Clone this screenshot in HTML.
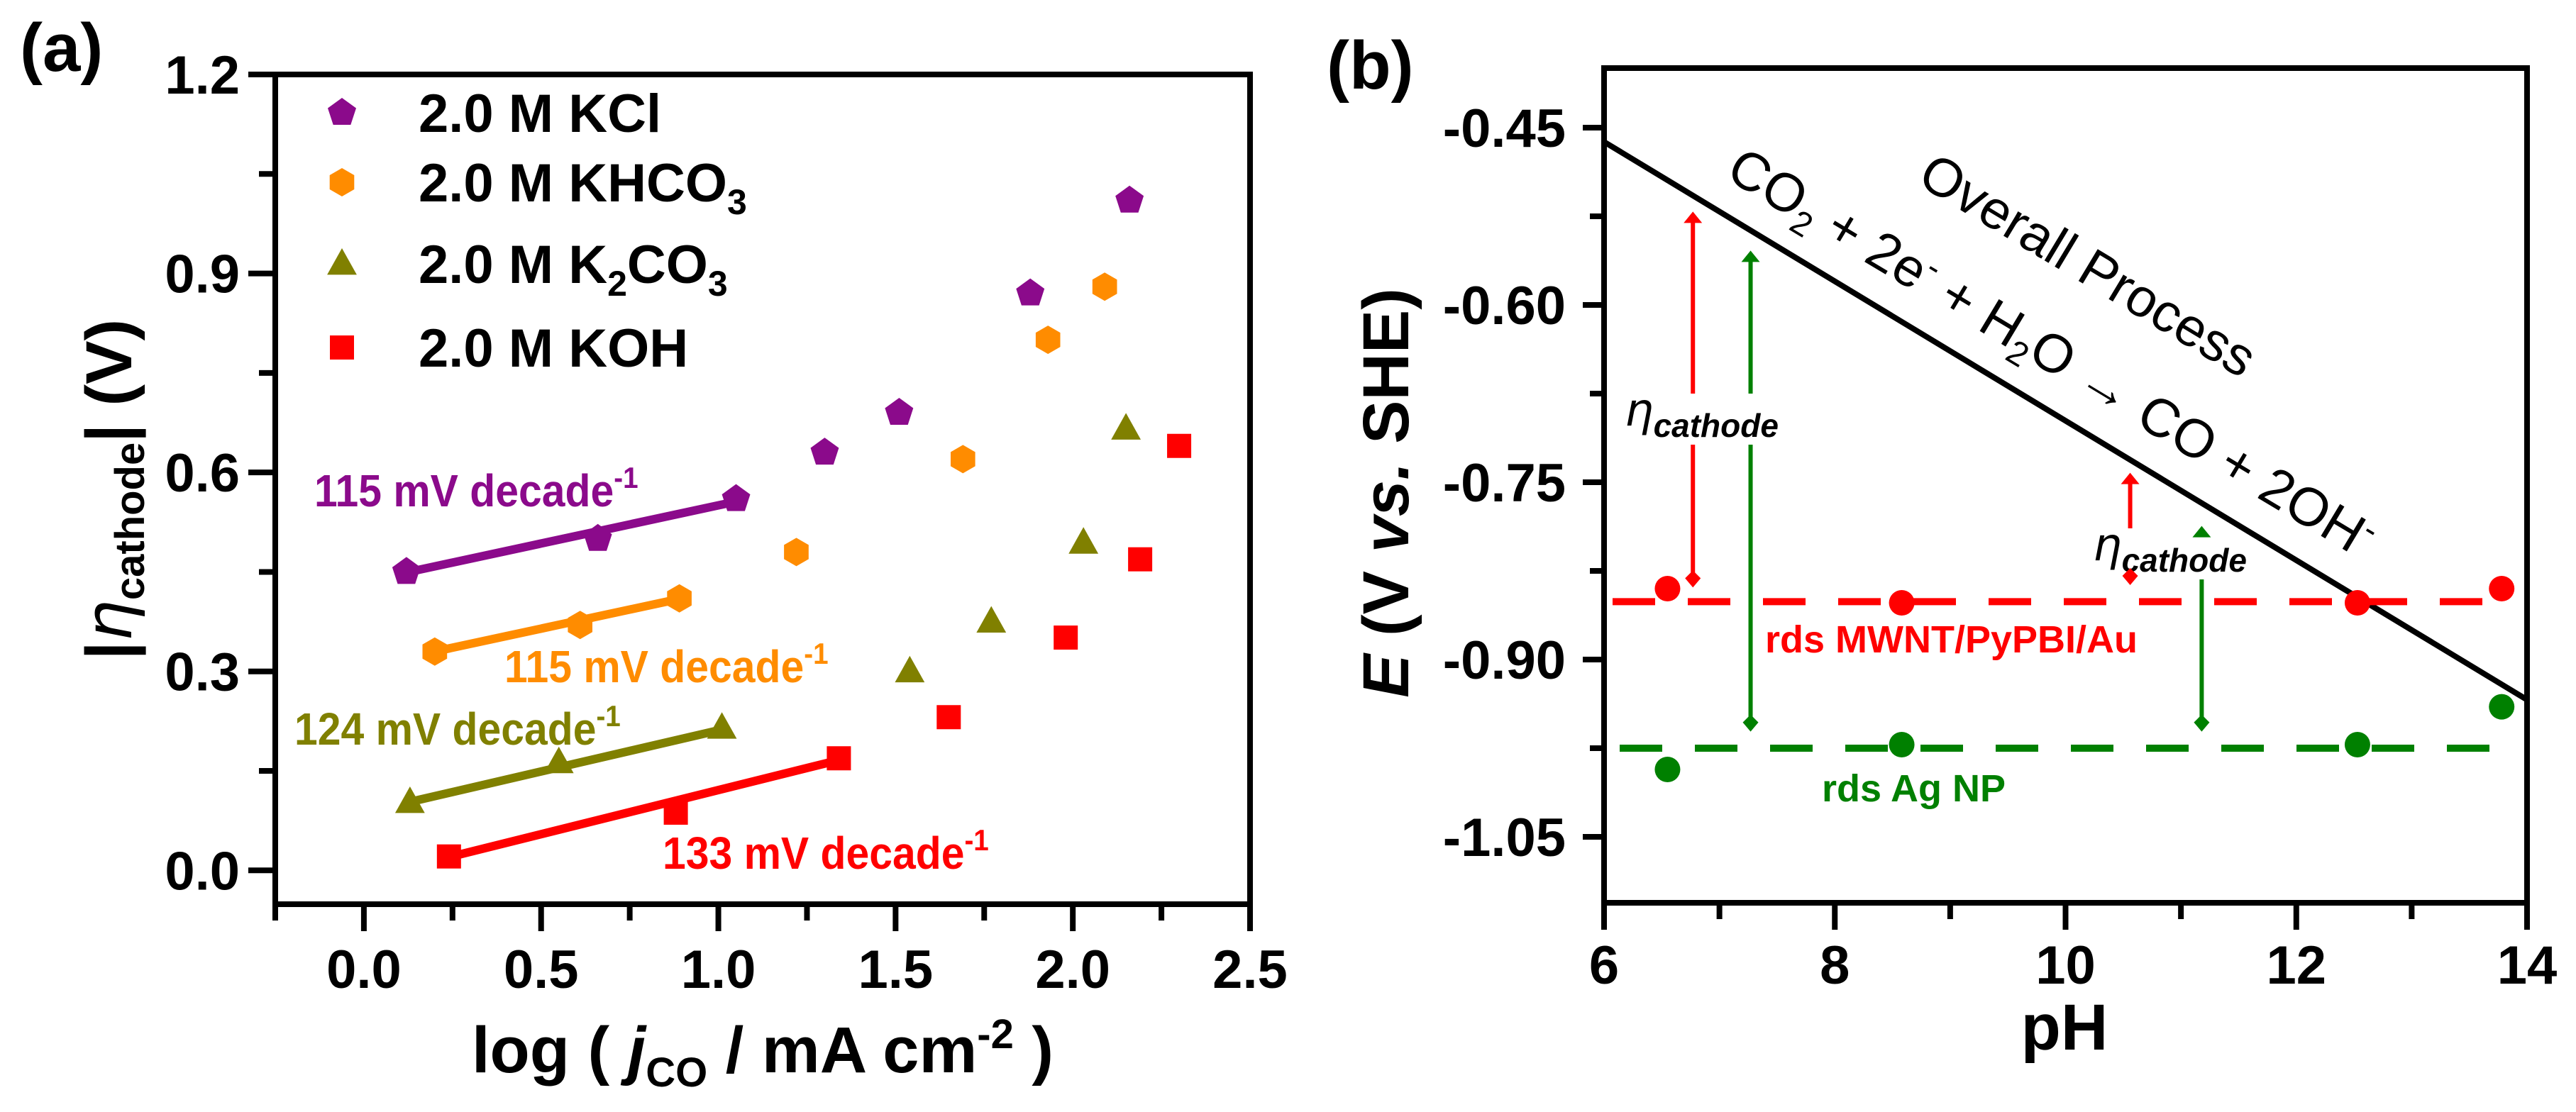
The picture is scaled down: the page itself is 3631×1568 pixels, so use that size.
<!DOCTYPE html>
<html><head><meta charset="utf-8"><style>
html,body{margin:0;padding:0;background:#fff;}
svg{display:block;font-family:"Liberation Sans",Arial,sans-serif;font-weight:bold;}
</style></head><body>
<svg id="fig" width="3631" height="1568" viewBox="0 0 3631 1568" xmlns="http://www.w3.org/2000/svg">
<g id="pa"></g>
<g id="pb"></g>
</svg>
<script>
// ---------- Panel (a) data ----------
const aSeriesNames = ["2.0 M KCl","2.0 M KHCO3","2.0 M K2CO3","2.0 M KOH"];
const aColors = ["#8b0a8b","#ff8c00","#808000","#ff0000"];
const kclX = [0.12,0.66,1.05,1.30,1.51,1.88,2.16];
const kclY = [0.45,0.50,0.56,0.63,0.69,0.87,1.01];
const khco3X = [0.20,0.61,0.89,1.22,1.69,1.93,2.09];
const khco3Y = [0.33,0.37,0.41,0.48,0.62,0.80,0.88];
const k2co3X = [0.13,0.55,1.01,1.54,1.77,2.03,2.15];
const k2co3Y = [0.103,0.163,0.215,0.30,0.375,0.494,0.666];
const kohX = [0.24,0.88,1.34,1.65,1.98,2.19,2.30];
const kohY = [0.021,0.087,0.169,0.231,0.351,0.469,0.64];
const fitX0 = [0.11,0.20,0.12,0.24];
const fitX1 = [1.06,0.89,1.01,1.34];
const fitY0 = [0.448,0.33,0.102,0.02];
const fitSlope = [0.115,0.115,0.124,0.133];
const fitLabels = ["115 mV decade","115 mV decade","124 mV decade","133 mV decade"];
const aXTicks = [0.0,0.5,1.0,1.5,2.0,2.5];
const aXTickLabels = ["0.0","0.5","1.0","1.5","2.0","2.5"];
const aYTicks = [0.0,0.3,0.6,0.9,1.2];
const aYTickLabels = ["0.0","0.3","0.6","0.9","1.2"];
// ---------- Panel (b) data ----------
const bRedPH = [6.55,8.58,12.53,13.78];
const bRedE = [-0.840,-0.852,-0.852,-0.840];
const bGreenPH = [6.55,8.58,12.53,13.78];
const bGreenE = [-0.993,-0.972,-0.972,-0.940];
const bRdsRed = -0.851;
const bRdsGreen = -0.975;
const bLinePH = [6,14];
const bLineE = [-0.462,-0.934];
const bArrowPH = [6.77,7.27,10.56,11.18];
const bArrowTop = [-0.521,-0.554,-0.742,-0.787];
const bArrowBot = [-0.839,-0.961,-0.837,-0.961];
const bArrowColor = ["#ff0000","#008000","#ff0000","#008000"];
const bXTicks = [6,8,10,12,14];
const bXTickLabels = ["6","8","10","12","14"];
const bYTicks = [-0.45,-0.60,-0.75,-0.90,-1.05];
const bYTickLabels = ["-0.45","-0.60","-0.75","-0.90","-1.05"];

const NS="http://www.w3.org/2000/svg";
function mk(parent,tag,attrs,text){const e=document.createElementNS(NS,tag);for(const k in attrs)e.setAttribute(k,attrs[k]);if(text!==undefined)e.textContent=text;parent.appendChild(e);return e;}

const A={l:388,r:1762,t:105,b:1275,x0:-0.25,x1:2.5,y0:-0.051,y1:1.2};
const ax=v=>A.l+(v-A.x0)/(A.x1-A.x0)*(A.r-A.l);
const ay=v=>A.b-(v-A.y0)/(A.y1-A.y0)*(A.b-A.t);
const B={l:2261,r:3562,t:96,b:1273,x0:6,x1:14,y0:-1.1058,y1:-0.3996};
const bx=v=>B.l+(v-B.x0)/(B.x1-B.x0)*(B.r-B.l);
const by=v=>B.b-(v-B.y0)/(B.y1-B.y0)*(B.b-B.t);

const pa=document.getElementById('pa');
const pb=document.getElementById('pb');

function frame(g,R){
  const f=mk(g,'rect',{x:R.l,y:R.t,width:R.r-R.l,height:R.b-R.t,fill:'none',stroke:'#000','stroke-width':8});
  
  
}
function tick(g,x1,y1,x2,y2,name){
  const t=mk(g,'line',{x1,y1,x2,y2,stroke:'#000','stroke-width':8});
  
  
}
function pentagon(cx,cy,r){let p=[];for(let i=0;i<5;i++){const a=-Math.PI/2+i*2*Math.PI/5;p.push((cx+r*Math.cos(a)).toFixed(1)+','+(cy+r*Math.sin(a)).toFixed(1));}return p.join(' ');}
function hexagon(cx,cy,r){let p=[];for(let i=0;i<6;i++){const a=Math.PI/6+i*Math.PI/3;p.push((cx+r*Math.cos(a)).toFixed(1)+','+(cy+r*Math.sin(a)).toFixed(1));}return p.join(' ');}
function triangle(cx,cy,r){return `${cx},${cy-r} ${cx+r*0.95},${cy+r*0.7} ${cx-r*0.95},${cy+r*0.7}`;}
function marker(g,kind,cx,cy,color,name){
  let e;
  if(kind===0)e=mk(g,'polygon',{points:pentagon(cx,cy,21),fill:color});
  else if(kind===1)e=mk(g,'polygon',{points:hexagon(cx,cy,20),fill:color});
  else if(kind===2)e=mk(g,'polygon',{points:triangle(cx,cy,22),fill:color});
  else e=mk(g,'rect',{x:cx-17,y:cy-17,width:34,height:34,fill:color});
  
  
}

// ===== Panel a =====
frame(pa,A);
aXTicks.forEach((v,i)=>{
  tick(pa,ax(v),A.b,ax(v),A.b+38,'x-tick');
  const t=mk(pa,'text',{x:ax(v),y:1393,'font-size':76,'text-anchor':'middle'},aXTickLabels[i]);
  
  
  if(i<aXTicks.length-1) tick(pa,ax(v+0.25),A.b,ax(v+0.25),A.b+23,'x-minor-tick');
});
tick(pa,ax(-0.25),A.b,ax(-0.25),A.b+23,'x-minor-tick');
aYTicks.forEach((v,i)=>{
  tick(pa,A.l-38,ay(v),A.l,ay(v),'y-tick');
  const t=mk(pa,'text',{x:338,y:ay(v)+27,'font-size':76,'text-anchor':'end'},aYTickLabels[i]);
  
  
  if(i<aYTicks.length-1) tick(pa,A.l-23,ay(v+0.15),A.l,ay(v+0.15),'y-minor-tick');
});
const aXs=[kclX,khco3X,k2co3X,kohX], aYs=[kclY,khco3Y,k2co3Y,kohY];
const fitLabelPos=[[443,714],[711,962],[415,1050],[934,1225]];
for(let s=0;s<4;s++){
  const ln=mk(pa,'line',{x1:ax(fitX0[s]),y1:ay(fitY0[s]),x2:ax(fitX1[s]),y2:ay(fitY0[s]+fitSlope[s]*(fitX1[s]-fitX0[s])),stroke:aColors[s],'stroke-width':12});
  
  
  aXs[s].forEach((x,i)=>marker(pa,s,ax(x),ay(aYs[s][i]),aColors[s],'point-'+s+'-'+i));
  const t=mk(pa,'text',{x:0,y:0,'font-size':64,fill:aColors[s],transform:`translate(${fitLabelPos[s][0]},${fitLabelPos[s][1]}) scale(0.92,1)`});
  
  
  t.appendChild(document.createTextNode(fitLabels[s]));
  mk(t,'tspan',{'font-size':42,dy:-26},'-1');
}
const legY=[159,257,372,490];
const legHTML=[["2.0 M KCl"],["2.0 M KHCO","3"],["2.0 M K","2","CO","3"],["2.0 M KOH"]];
for(let s=0;s<4;s++){
  marker(pa,s,482,legY[s],aColors[s],'legend-marker');
  const t=mk(pa,'text',{x:590,y:legY[s]+27,'font-size':76});
  
  
  legHTML[s].forEach((p,j)=>{ if(j%2===0) mk(t,'tspan',{dy:(j===0?0:-18)},p); else mk(t,'tspan',{'font-size':50,dy:18},p);});
}
let tt=mk(pa,'text',{x:0,y:0,'font-size':92,'text-anchor':'middle',transform:'translate(185,690) rotate(-90)'});


mk(tt,'tspan',{},'|');
mk(tt,'tspan',{'font-style':'italic','font-family':'"DejaVu Sans",sans-serif','font-weight':'normal'},'η');
mk(tt,'tspan',{'font-size':58,dy:18},'cathode');
mk(tt,'tspan',{dy:-18},'| (V)');
tt=mk(pa,'text',{x:1075,y:1512,'font-size':92,'text-anchor':'middle'});


mk(tt,'tspan',{},'log ( ');
mk(tt,'tspan',{'font-style':'italic'},'j');
mk(tt,'tspan',{'font-size':58,dy:20},'CO');
mk(tt,'tspan',{dy:-20},' / mA cm');
mk(tt,'tspan',{'font-size':58,dy:-34},'-2');
mk(tt,'tspan',{dy:34},' )');
tt=mk(pa,'text',{x:28,y:100,'font-size':96},'(a)');



// ===== Panel b =====
frame(pb,B);
bXTicks.forEach((v,i)=>{
  tick(pb,bx(v),B.b,bx(v),B.b+38,'x-tick');
  const t=mk(pb,'text',{x:bx(v),y:1387,'font-size':76,'text-anchor':'middle'},bXTickLabels[i]);
  
  
  if(i<bXTicks.length-1) tick(pb,bx(v+1),B.b,bx(v+1),B.b+23,'x-minor-tick');
});
bYTicks.forEach((v,i)=>{
  tick(pb,B.l-30,by(v),B.l,by(v),'y-tick');
  const t=mk(pb,'text',{x:2207,y:by(v)+27,'font-size':76,'text-anchor':'end'},bYTickLabels[i]);
  
  
  if(i<bYTicks.length-1) tick(pb,B.l-20,by(v-0.075),B.l,by(v-0.075),'y-minor-tick');
});
let e=mk(pb,'line',{x1:bx(bLinePH[0]),y1:by(bLineE[0]),x2:bx(bLinePH[1]),y2:by(bLineE[1]),stroke:'#000','stroke-width':8});


e=mk(pb,'line',{x1:B.l+12,y1:by(bRdsRed),x2:B.r-30,y2:by(bRdsRed),stroke:'#ff0000','stroke-width':10,'stroke-dasharray':'60 46'});


e=mk(pb,'line',{x1:B.l+22,y1:by(bRdsGreen),x2:B.r-30,y2:by(bRdsGreen),stroke:'#008000','stroke-width':10,'stroke-dasharray':'60 46'});


bRedPH.forEach((p,i)=>{
  const c=mk(pb,'circle',{cx:bx(p),cy:by(bRedE[i]),r:18,fill:'#ff0000'});
  
  
});
bGreenPH.forEach((p,i)=>{
  const c=mk(pb,'circle',{cx:bx(p),cy:by(bGreenE[i]),r:18,fill:'#008000'});
  
  
});
// arrow shafts
bArrowPH.forEach((p,i)=>{
  const x=bx(p),y1=by(bArrowTop[i]),y2=by(bArrowBot[i]),c=bArrowColor[i];
  const l=mk(pb,'line',{x1:x,y1:y1+10,x2:x,y2:y2-10,stroke:c,'stroke-width':6});
  
  
});
// eta labels with white backgrounds
[[2290,600],[2950,790]].forEach(pt=>{
  mk(pb,'rect',{x:pt[0]-2,y:pt[1]-45,width:200,height:72,fill:'#fff'});
  const t=mk(pb,'text',{x:pt[0],y:pt[1],'font-size':64,'font-weight':'normal','font-style':'italic'});
  
  
  mk(t,'tspan',{'font-family':'"DejaVu Sans",sans-serif'},'η');
  mk(t,'tspan',{'font-size':46,dy:16,'font-weight':'bold'},'cathode');
});
// arrow heads on top
bArrowPH.forEach((p,i)=>{
  const x=bx(p),y1=by(bArrowTop[i]),y2=by(bArrowBot[i]),c=bArrowColor[i];
  const g=mk(pb,'g',{});
  
  
  mk(g,'polygon',{points:`${x},${y1} ${x+13},${y1+16} ${x-13},${y1+16}`,fill:c});
  mk(g,'polygon',{points:`${x},${y2} ${x+11},${y2-13} ${x},${y2-24} ${x-11},${y2-13}`,fill:c});
});
e=mk(pb,'text',{x:2488,y:920,'font-size':54,fill:'#ff0000'},'rds MWNT/PyPBI/Au');


e=mk(pb,'text',{x:2568,y:1130,'font-size':54,fill:'#008000'},'rds Ag NP');


tt=mk(pb,'text',{x:0,y:0,'font-size':76,'font-weight':'normal',transform:'translate(2430,250) rotate(31)'});


mk(tt,'tspan',{},'CO');
mk(tt,'tspan',{'font-size':48,dy:16},'2');
mk(tt,'tspan',{dy:-16},' + 2e');
mk(tt,'tspan',{'font-size':48,dy:-28},'-');
mk(tt,'tspan',{dy:28},' + H');
mk(tt,'tspan',{'font-size':48,dy:16},'2');
mk(tt,'tspan',{dy:-16},'O → CO + 2OH');
mk(tt,'tspan',{'font-size':48,dy:-28},'-');
tt=mk(pb,'text',{x:0,y:0,'font-size':76,'font-weight':'normal',transform:'translate(2700,258) rotate(31)'},'Overall Process');


tt=mk(pb,'text',{x:0,y:0,'font-size':92,'text-anchor':'middle',transform:'translate(1985,695) rotate(-90)'});


mk(tt,'tspan',{'font-style':'italic'},'E');
mk(tt,'tspan',{},' (V ');
mk(tt,'tspan',{'font-style':'italic'},'vs.');
mk(tt,'tspan',{},' SHE)');
tt=mk(pb,'text',{x:2910,y:1480,'font-size':92,'text-anchor':'middle'},'pH');


tt=mk(pb,'text',{x:1870,y:125,'font-size':96},'(b)');


</script>
</body></html>
